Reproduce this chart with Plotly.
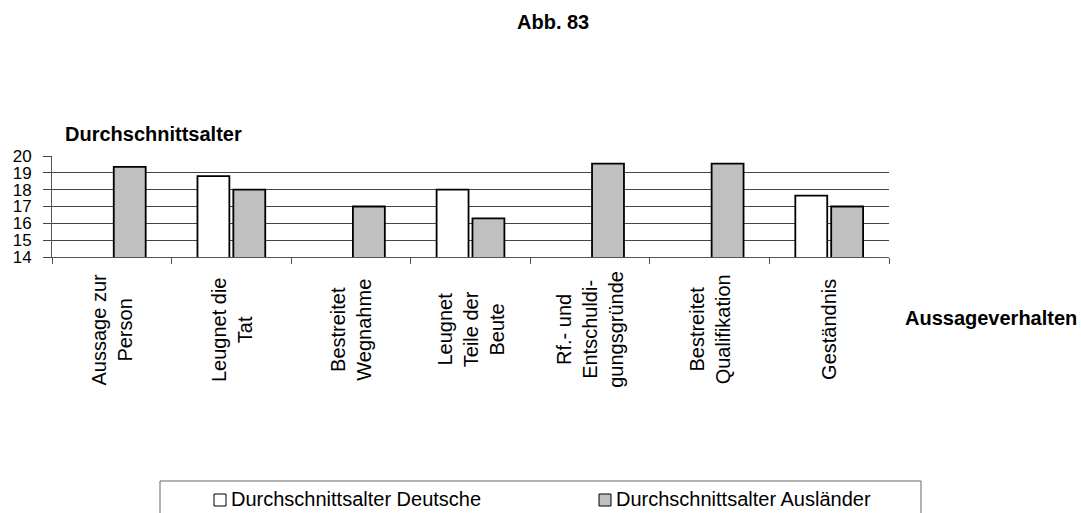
import plotly.graph_objects as go

# Aussageverhalten categories (line breaks as printed on the axis)
categories = [
    "Aussage zur<br>Person",
    "Leugnet die<br>Tat",
    "Bestreitet<br>Wegnahme",
    "Leugnet<br>Teile der<br>Beute",
    "Rf.- und<br>Entschuldi-<br>gungsgründe",
    "Bestreitet<br>Qualifikation",
    "Geständnis",
]
alter_deutsche = [None, 18.8, None, 18.0, None, None, 17.65]
alter_auslaender = [19.35, 18.0, 17.0, 16.3, 19.55, 19.55, 17.0]
y_ticks = [14, 15, 16, 17, 18, 19, 20]
grid_values = [15, 16, 17, 18, 19]

FONT = "Liberation Sans, Arial, sans-serif"
W, H = 1081, 513
L, R, T, B = 52, 192, 156, 256  # plot area: x 52..889, y 156..257

fig = go.Figure()
fig.add_trace(go.Bar(
    x=categories, y=alter_deutsche,
    name="Durchschnittsalter Deutsche",
    marker=dict(color="white", line=dict(color="black", width=1.8)),
))
fig.add_trace(go.Bar(
    x=categories, y=alter_auslaender,
    name="Durchschnittsalter Ausländer",
    marker=dict(color="#c0c0c0", line=dict(color="black", width=1.8)),
))

fig.update_layout(
    width=W, height=H,
    margin=dict(l=L, r=R, t=T, b=B, autoexpand=False),
    paper_bgcolor="white", plot_bgcolor="white",
    barmode="group", bargap=0.4, bargroupgap=0.11,
    showlegend=False,
    font=dict(family=FONT, color="black"),
)
fig.update_xaxes(
    showticklabels=False, tickson="boundaries", ticks="outside",
    ticklen=6, tickcolor="#555", showline=True, linecolor="#555",
    linewidth=1, showgrid=False,
)
fig.update_yaxes(
    range=[14, 20], tickvals=y_ticks, ticks="outside", ticklen=8,
    tickcolor="#444", showline=True, linecolor="#555", linewidth=1,
    showgrid=False, zeroline=False, ticklabelstandoff=8,
    tickfont=dict(size=17, family=FONT, color="black"),
    minor=dict(tickvals=grid_values, showgrid=True, gridcolor="#444",
               gridwidth=1, ticks=""),
)

# category labels, rotated and centred below each group
for cat in categories:
    fig.add_annotation(
        x=cat, xref="x", y=-0.72, yref="paper", text=cat,
        textangle=-90, showarrow=False, xanchor="center", yanchor="middle",
        align="center", font=dict(size=20, family=FONT, color="black"),
    )

pw, ph = W - L - R, H - T - B


def px_x(p):
    return (p - L) / pw


def px_y(p):
    return (H - B - p) / ph


fig.add_annotation(x=px_x(553), y=px_y(22), xref="paper", yref="paper",
                   text="<b>Abb. 83</b>", showarrow=False,
                   xanchor="center", yanchor="middle",
                   font=dict(size=20, family=FONT))
fig.add_annotation(x=px_x(63), y=px_y(134), xref="paper", yref="paper",
                   text="<b>Durchschnittsalter</b>", showarrow=False,
                   xanchor="left", yanchor="middle",
                   font=dict(size=20, family=FONT))
fig.add_annotation(x=px_x(903), y=px_y(318), xref="paper", yref="paper",
                   text="<b>Aussageverhalten</b>", showarrow=False,
                   xanchor="left", yanchor="middle",
                   font=dict(size=20, family=FONT))

# legend box centred along the bottom edge
fig.add_shape(type="rect", xref="paper", yref="paper",
              x0=px_x(160), x1=px_x(921), y0=px_y(530), y1=px_y(481),
              line=dict(color="#666", width=1), fillcolor="white")
legend_items = [("Durchschnittsalter Deutsche", "white", 214),
                ("Durchschnittsalter Ausländer", "#c0c0c0", 599)]
for label, colour, sx in legend_items:
    fig.add_shape(type="rect", xref="paper", yref="paper",
                  x0=px_x(sx), x1=px_x(sx + 12), y0=px_y(506), y1=px_y(494),
                  line=dict(color="black", width=1), fillcolor=colour)
    fig.add_annotation(x=px_x(sx + 15), y=px_y(499), xref="paper", yref="paper",
                       text=label, showarrow=False, xanchor="left",
                       yanchor="middle", font=dict(size=20, family=FONT))

fig.write_html("out.html")
